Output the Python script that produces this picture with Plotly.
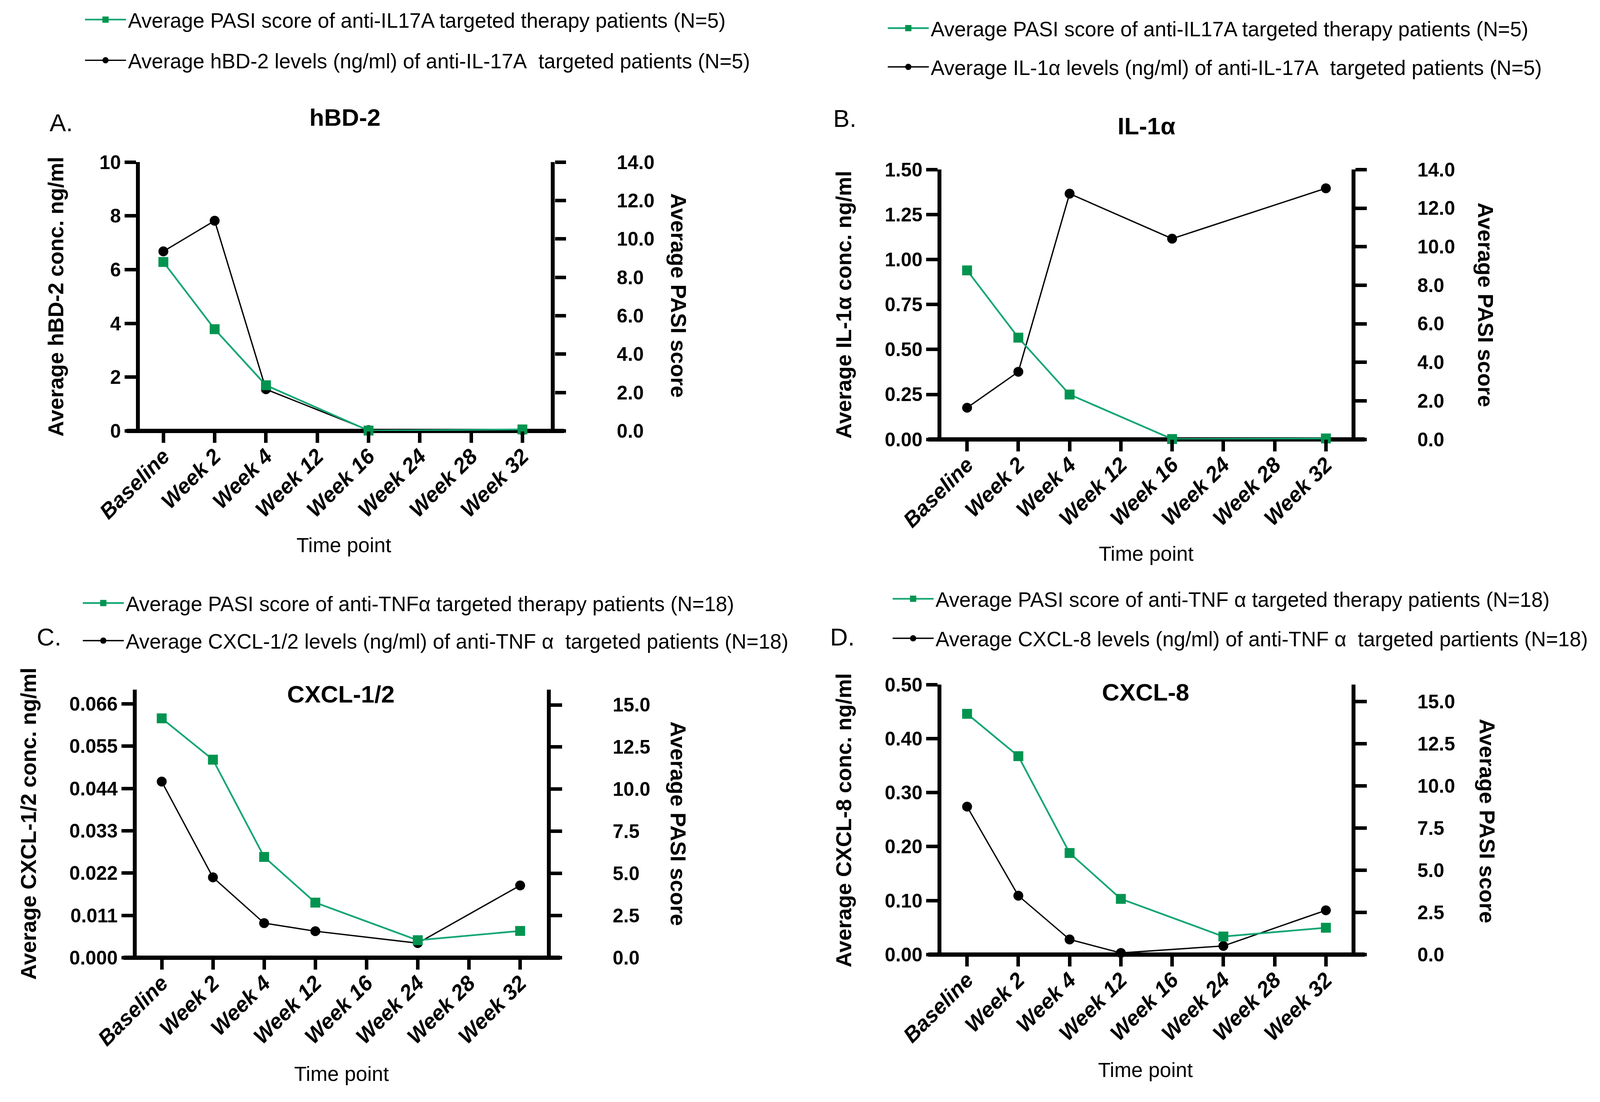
import plotly.graph_objects as go

# ---------------- data ----------------
categories = ["Baseline", "Week 2", "Week 4", "Week 12", "Week 16", "Week 24", "Week 28", "Week 32"]

# Panel A (anti-IL17A, N=5)
hbd2_levels = [6.68, 7.82, 1.55, None, 0.03, None, None, 0.03]
pasi_il17a_a = [8.80, 5.30, 2.38, None, 0.02, None, None, 0.08]
# Panel B (anti-IL17A, N=5)
il1a_levels = [0.176, 0.376, 1.366, None, 1.116, None, None, 1.396]
pasi_il17a_b = [8.77, 5.28, 2.33, None, 0.02, None, None, 0.05]
# Panel C (anti-TNFa, N=18)
cxcl12_levels = [0.0458, 0.0209, 0.0090, 0.0069, None, 0.0038, None, 0.0188]
pasi_tnf_c = [14.20, 11.75, 5.98, 3.27, None, 1.04, None, 1.59]
# Panel D (anti-TNFa, N=18)
cxcl8_levels = [0.274, 0.109, 0.028, 0.003, None, 0.016, None, 0.082]
pasi_tnf_d = [14.27, 11.76, 6.02, 3.30, None, 1.07, None, 1.59]

green_names = [
    "Average PASI score of anti-IL17A targeted therapy patients (N=5)",
    "Average PASI score of anti-IL17A targeted therapy patients (N=5)",
    "Average PASI score of anti-TNF\u03b1 targeted therapy patients (N=18)",
    "Average PASI score of anti-TNF \u03b1 targeted therapy patients (N=18)",
]
black_names = [
    "Average hBD-2 levels (ng/ml) of anti-IL-17A\u00a0 targeted patients (N=5)",
    "Average IL-1\u03b1 levels (ng/ml) of anti-IL-17A\u00a0 targeted patients (N=5)",
    "Average CXCL-1/2 levels (ng/ml) of anti-TNF \u03b1\u00a0 targeted patients (N=18)",
    "Average CXCL-8 levels (ng/ml) of anti-TNF \u03b1\u00a0 targeted partients (N=18)",
]
panel_titles = ["hBD-2", "IL-1\u03b1", "CXCL-1/2", "CXCL-8"]
panel_letters = ["A.", "B.", "C.", "D."]
left_titles = [
    "Average hBD-2 conc. ng/ml",
    "Average IL-1\u03b1 conc. ng/ml",
    "Average CXCL-1/2 conc. ng/ml",
    "Average CXCL-8 conc. ng/ml",
]
right_title = "Average PASI score"
x_title = "Time point"

black_series = [hbd2_levels, il1a_levels, cxcl12_levels, cxcl8_levels]
green_series = [pasi_il17a_a, pasi_il17a_b, pasi_tnf_c, pasi_tnf_d]

# ---------------- layout / style ----------------
# The photographed page area is about 4094 x 2811 CSS px (8px body margin),
# so target (reference) pixel positions are mapped into that area.
RW, RH = 4299, 2822          # reference picture size
KX = 4094 / RW               # reference px -> CSS px, horizontal
KY = 2811 / RH               # reference px -> CSS px, vertical
W, H = 4078, 2780            # figure size in CSS px


def px(f):   # reference horizontal fraction -> paper x
    return (f * RW * KX - 8) / W


def py(f):   # reference vertical fraction (from bottom) -> paper y
    return 1 - ((1 - f) * RH * KY - 8) / H


FONT = "Liberation Sans, Arial, sans-serif"
GREEN_M = "#009450"
GREEN_L = "#14a673"

panels = [
    dict(xd=[0.0875, 0.3445], yd=[0.6074, 0.8523], xr=[-0.457, 7.556],
         yl=dict(range=[0, 10], dtick=2, fmt="d"), yr=dict(range=[0, 14], dtick=2, fmt=".1f"),
         leg=(343, 52), gap=32.5, letter=(0.0383, 0.8884), title=(0.2156, 0.8931),
         lt=(0.0351, 0.7299), rt=(0.4242, 0.7309), xt=(0.2150, 0.5035)),
    dict(xd=[0.5887, 0.8451], yd=[0.5997, 0.8455], xr=[-0.5, 7.5],
         yl=dict(range=[0, 1.5], dtick=0.25, fmt=".2f"), yr=dict(range=[0, 14], dtick=2, fmt=".1f"),
         leg=(2501, 74), gap=27.5, letter=(0.5281, 0.8922), title=(0.7169, 0.8853),
         lt=(0.5275, 0.7222), rt=(0.9290, 0.7222), xt=(0.7169, 0.4957)),
    dict(xd=[0.0855, 0.3419], yd=[0.1275, 0.3717], xr=[-0.488, 7.52],
         yl=dict(range=[0, 0.0697], dtick=0.011, fmt=".3f"), yr=dict(range=[0, 15.9], dtick=2.5, fmt=".1f"),
         leg=(337, 1552), gap=24.5, letter=(0.0306, 0.4199), title=(0.2130, 0.3675),
         lt=(0.0179, 0.2498), rt=(0.4242, 0.2498), xt=(0.2137, 0.0216)),
    dict(xd=[0.5887, 0.8451], yd=[0.1304, 0.3763], xr=[-0.5, 7.5],
         yl=dict(range=[0, 0.5], dtick=0.1, fmt=".2f"), yr=dict(range=[0, 16.0], dtick=2.5, fmt=".1f"),
         leg=(2514, 1541), gap=29.5, letter=(0.5268, 0.4199), title=(0.7163, 0.3694),
         lt=(0.5275, 0.2527), rt=(0.9300, 0.2519), xt=(0.7163, 0.0254)),
]

fig = go.Figure()
layout = dict(
    width=W, height=H, margin=dict(l=0, r=0, t=0, b=0, pad=0, autoexpand=False),
    paper_bgcolor="white", plot_bgcolor="white",
    font=dict(family=FONT, color="black", size=48),
    showlegend=True,
)
annotations = []
shapes = []

AXW_Y = 11 * KX      # vertical axis lines (horizontal thickness)
AXW_X = 11 * KY      # bottom axis line (vertical thickness)
TICKW = 9 * KX
TICKL_Y = 30 * KX
TICKL_X = 30 * KY
LEG_W = 105
LEG_FONT = 55.5 * KX
KD = (KX + KY) / 2

for i, p in enumerate(panels):
    n = i + 1
    xname = "x" if n == 1 else f"x{n}"
    yl_name = f"y{2 * n - 1}" if n > 1 else "y"
    yr_name = f"y{2 * n}"
    legname = "legend" if n == 1 else f"legend{n}"

    # black series on left axis (drawn first)
    fig.add_trace(go.Scatter(
        x=categories, y=black_series[i], xaxis=xname, yaxis=yl_name,
        mode="lines+markers", connectgaps=True, cliponaxis=False,
        name=black_names[i], legend=legname, legendrank=2, legendgroup=f"b{n}",
        line=dict(color="black", width=3.5 * KD),
        marker=dict(symbol="circle", size=26 * KD, color="black"),
    ))
    # green PASI series on right axis
    fig.add_trace(go.Scatter(
        x=categories, y=green_series[i], xaxis=xname, yaxis=yr_name,
        mode="lines+markers", connectgaps=True, cliponaxis=False,
        name=green_names[i], legend=legname, legendrank=1, legendgroup=f"g{n}",
        line=dict(color=GREEN_L, width=4.5 * KD),
        marker=dict(symbol="square", size=26 * KD, color=GREEN_M),
    ))

    xkey = "xaxis" if n == 1 else f"xaxis{n}"
    ylkey = "yaxis" if n == 1 else f"yaxis{2 * n - 1}"
    yrkey = f"yaxis{2 * n}"
    xdom = [px(p["xd"][0]), px(p["xd"][1])]
    ydom = [py(p["yd"][0]), py(p["yd"][1])]

    layout[xkey] = dict(
        domain=xdom, anchor=yl_name, type="category",
        categoryorder="array", categoryarray=categories,
        range=p["xr"], showline=False, showgrid=False, zeroline=False, automargin=False,
        ticks="outside", ticklen=TICKL_X, tickwidth=TICKW, tickcolor="black",
        tickangle=-45, ticklabelstandoff=-20,
        tickfont=dict(family=FONT, size=56.5 * KD, weight="bold", style="italic", color="black"),
    )
    layout[ylkey] = dict(
        domain=ydom, anchor=xname, range=p["yl"]["range"], dtick=p["yl"]["dtick"], tick0=0,
        tickformat=p["yl"]["fmt"], showline=True, linewidth=AXW_Y, linecolor="black",
        showgrid=False, zeroline=False, automargin=False, ticks="outside", ticklen=TICKL_Y,
        tickwidth=TICKW, tickcolor="black",
        tickfont=dict(family=FONT, size=52 * KX, weight="bold", color="black"),
    )
    layout[yrkey] = dict(
        overlaying=yl_name, side="right", anchor=xname, range=p["yr"]["range"],
        dtick=p["yr"]["dtick"], tick0=0, tickformat=p["yr"]["fmt"],
        showline=True, linewidth=AXW_Y, linecolor="black", automargin=False,
        showgrid=False, zeroline=False, ticks="outside", ticklen=TICKL_Y, tickwidth=TICKW,
        tickcolor="black", ticklabelstandoff=120,
        tickfont=dict(family=FONT, size=52 * KX, weight="bold", color="black"),
    )
    # legend placement: text start (reference px) and first-row centre (reference px)
    text_x_css = p["leg"][0] * KX - 8
    row1_css = p["leg"][1] * KY - 8
    layout[legname] = dict(
        x=(text_x_css - LEG_W - 9) / W, y=1 - (row1_css - 42.5) / H,
        xanchor="left", yanchor="top",
        bgcolor="rgba(0,0,0,0)", borderwidth=0, itemwidth=LEG_W,
        traceorder="grouped", tracegroupgap=p["gap"],
        font=dict(family=FONT, size=LEG_FONT, color="black"),
    )

    # bottom axis line extended by tick length on both sides
    dom_w = (xdom[1] - xdom[0]) * W
    ext = (TICKL_Y + AXW_Y / 2) / dom_w
    shapes.append(dict(
        type="line", xref=f"{xname} domain", yref=f"{yl_name} domain",
        x0=-ext, x1=1 + ext, y0=0, y1=0, layer="below",
        line=dict(color="black", width=AXW_X),
    ))

    def ann(text, pos, size, angle=0, bold=False):
        return dict(text=text, x=px(pos[0]), y=py(pos[1]), xref="paper", yref="paper",
                    showarrow=False, xanchor="center", yanchor="middle", textangle=angle,
                    font=dict(family=FONT, size=size, color="black",
                              weight="bold" if bold else "normal"))

    annotations += [
        ann(panel_letters[i], p["letter"], 66 * KX),
        ann(panel_titles[i], p["title"], 65 * KX, bold=True),
        ann(left_titles[i], p["lt"], 55.5 * KY, angle=-90, bold=True),
        ann(right_title, p["rt"], 56 * KY, angle=90, bold=True),
        ann(x_title, p["xt"], 55 * KX),
    ]

layout["annotations"] = annotations
layout["shapes"] = shapes
fig.update_layout(**layout)
fig.write_html("out.html")
